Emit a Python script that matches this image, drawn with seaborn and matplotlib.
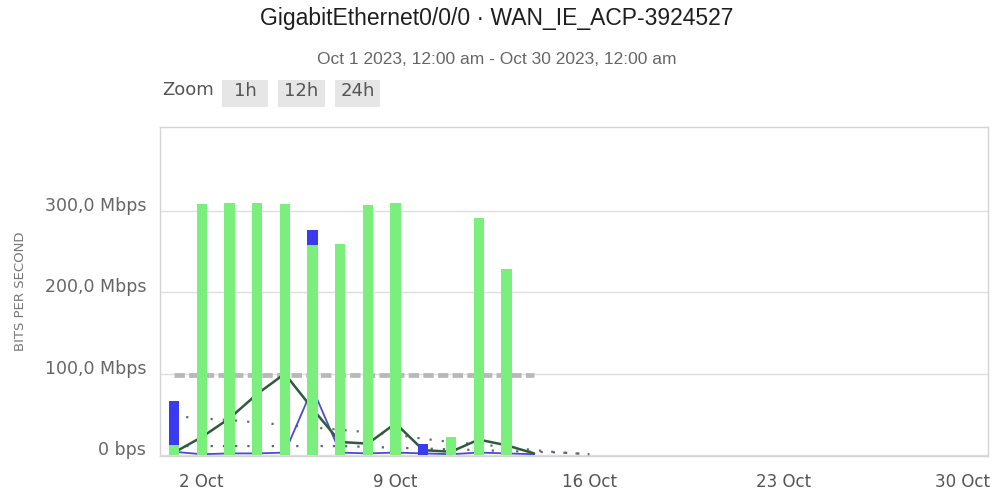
import matplotlib
matplotlib.use("Agg")
import numpy as np
import pandas as pd
import matplotlib.pyplot as plt
import seaborn as sns
from matplotlib.patches import Rectangle
from matplotlib.transforms import ScaledTranslation

# ---------------- data (Mbps, day of October 2023) ----------------
bar_days = list(range(1, 15))
green_mbps = [12, 309, 310, 310, 309, 258, 259, 308, 310, 0, 22, 292, 229, 0]
blue_mbps = [66, 0, 0, 0, 0, 277, 0, 0, 0, 14, 0, 0, 0, 0]

line_days = list(range(1, 15))
dark_line_mbps = [3, 22, 45, 75, 100, 57, 16, 14, 39, 6, 4, 19, 12, 2]
blue_line_mbps = [4, 1, 2, 2, 3, 82, 3, 2, 3, 2, 1, 3, 2, 1]

dotted_days = list(range(1, 17))
dotted_dark_mbps = [48, 45, 43, 40, 37, 34, 31, 28, 25, 20, 16, 13, 10, 6, 3, 1]
dotted_blue_mbps = [11, 11, 11, 11, 11, 11, 11, 10, 9, 8, 7, 6, 5, 4, 3, 1]

ref_days = [1, 14]
ref_mbps = [99, 99]

xtick_days = [2, 9, 16, 23, 30]
xtick_labels = ["2 Oct", "9 Oct", "16 Oct", "23 Oct", "30 Oct"]
ytick_vals = [0, 100, 200, 300]
ytick_labels = ["0 bps", "100,0 Mbps", "200,0 Mbps", "300,0 Mbps"]

title = "GigabitEthernet0/0/0 \u00b7 WAN_IE_ACP-3924527"
subtitle = "Oct 1 2023, 12:00 am - Oct 30 2023, 12:00 am"
zoom_buttons = ["1h", "12h", "24h"]

# ---------------- styling ----------------
sns.set_style("white")
plt.rcParams["font.family"] = ["DejaVu Sans"]

W, H = 992, 493
fig = plt.figure(figsize=(W / 100, H / 100), dpi=100)
ax = fig.add_axes([160 / W, 1 - 456 / H, (988 - 160) / W, (456 - 127) / H])

bars = pd.DataFrame({"day": bar_days, "green": green_mbps, "blue": blue_mbps})
lines = pd.DataFrame({"day": line_days, "dark": dark_line_mbps, "blue": blue_line_mbps})
dots = pd.DataFrame({"day": dotted_days, "dark": dotted_dark_mbps, "blue": dotted_blue_mbps})
ref = pd.DataFrame({"day": ref_days, "v": ref_mbps})

# reference dashed level
sns.lineplot(data=ref, x="day", y="v", ax=ax, color="#b8b8b8", lw=3.4, zorder=2)
ax.lines[-1].set_dashes((2.2, 0.9))

# dotted trend lines
sns.lineplot(data=dots, x="day", y="dark", ax=ax, color="#5d7563", lw=1.6, zorder=2)
ax.lines[-1].set_dashes((1, 4.5))
sns.lineplot(data=dots, x="day", y="blue", ax=ax, color="#5a5f8a", lw=1.6, zorder=2)
ax.lines[-1].set_dashes((1, 4.5))

# solid lines
sns.lineplot(data=lines, x="day", y="blue", ax=ax, color="#4a4ad8", lw=1.3, zorder=2)
sns.lineplot(data=lines, x="day", y="dark", ax=ax, color="#2f5a3b", lw=1.8, zorder=2)

# columns
sns.barplot(data=bars, x="day", y="blue", native_scale=True, width=0.37,
            color="#3a3af0", saturation=1, errorbar=None, ax=ax, zorder=3, linewidth=0)
sns.barplot(data=bars, x="day", y="green", native_scale=True, width=0.37,
            color="#7bef7b", saturation=1, errorbar=None, ax=ax, zorder=4, linewidth=0)

ax.set_xlim(0.495, 30.386)
ax.set_ylim(-1.2, 403.4)

ax.set_xticks(xtick_days)
ax.set_xticklabels(xtick_labels)
ax.set_yticks(ytick_vals)
ax.set_yticklabels(ytick_labels)
ax.set_xlabel("")
ax.set_ylabel("")
ax.tick_params(axis="x", length=0, pad=12, labelsize=12, labelcolor="#555555")
ax.tick_params(axis="y", length=0, pad=10, labelsize=12.5, labelcolor="#666666")
for lbl in ax.get_yticklabels():
    lbl.set_transform(lbl.get_transform() + ScaledTranslation(0, 7 / 100, fig.dpi_scale_trans))
last = ax.get_xticklabels()[-1]
last.set_transform(last.get_transform() + ScaledTranslation(-15 / 100, 0, fig.dpi_scale_trans))

ax.yaxis.grid(True, color="#dedede", lw=1, zorder=0)
ax.xaxis.grid(False)
ax.set_axisbelow(True)
for s in ax.spines.values():
    s.set_visible(True)
    s.set_color("#d4d4d4")
    s.set_linewidth(1)

# titles
fig.text(497 / W, 1 - 18 / H, title, ha="center", va="center",
         fontsize=16.5, color="#1e1e1e", family=["Liberation Sans", "DejaVu Sans"])
fig.text(497 / W, 1 - 60 / H, subtitle, ha="center", va="center",
         fontsize=12.5, color="#666666", family=["Liberation Sans", "DejaVu Sans"])
fig.text(21 / W, 1 - 291 / H, "BITS PER SECOND", rotation=90, ha="center", va="center",
         fontsize=9.5, color="#777777")

# zoom buttons
fig.text(162 / W, 1 - 90 / H, "Zoom", ha="left", va="center", fontsize=13, color="#555555")
button_x = [(222, 268), (278, 325), (335, 380)]
for (x0, x1), lab in zip(button_x, zoom_buttons):
    fig.patches.append(Rectangle((x0 / W, 1 - 107 / H), (x1 - x0) / W, 27 / H,
                                 transform=fig.transFigure, facecolor="#e6e6e6",
                                 edgecolor="none", zorder=0))
    fig.text((x0 + x1) / 2 / W, 1 - 91 / H, lab, ha="center", va="center",
             fontsize=13, color="#555555")

fig.savefig("out.png", dpi=100)
